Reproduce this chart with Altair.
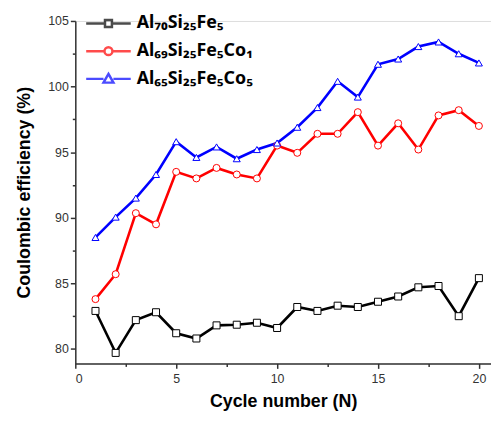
import altair as alt
import pandas as pd

cycles = list(range(1, 21))
series_names = ["Al₇₀Si₂₅Fe₅", "Al₆₉Si₂₅Fe₅Co₁", "Al₆₅Si₂₅Fe₅Co₅"]
black_vals = [82.9, 79.7, 82.2, 82.8, 81.2, 80.8, 81.8, 81.85, 82.0, 81.6,
              83.2, 82.9, 83.3, 83.2, 83.6, 84.0, 84.7, 84.8, 82.5, 85.4]
red_vals = [83.8, 85.7, 90.35, 89.5, 93.5, 93.0, 93.8, 93.3, 93.0, 95.5,
            94.95, 96.4, 96.4, 98.05, 95.5, 97.2, 95.2, 97.8, 98.2, 97.0]
blue_vals = [88.5, 90.05, 91.5, 93.3, 95.8, 94.6, 95.4, 94.5, 95.2, 95.7,
             96.9, 98.4, 100.4, 99.2, 101.7, 102.1, 103.05, 103.4, 102.5, 101.8]
colors = ["#000000", "#ff0000", "#0000ff"]
marker_shapes = ["square", "circle", "triangle-up"]
x_major = [0, 5, 10, 15, 20]
x_minor = [2.5, 7.5, 12.5, 17.5]
y_major = [80, 85, 90, 95, 100, 105]
y_minor = [82.5, 87.5, 92.5, 97.5, 102.5]

rows = []
for name, vals in zip(series_names, [black_vals, red_vals, blue_vals]):
    for c, v in zip(cycles, vals):
        rows.append({"cycle": c, "value": v, "series": name})
df = pd.DataFrame(rows)

FONT = "Liberation Sans"
xscale = alt.Scale(domain=[0, 20.6], nice=False, zero=False)
yscale = alt.Scale(domain=[78.9, 105], nice=False, zero=False)
cscale = alt.Scale(domain=series_names, range=colors)
sscale = alt.Scale(domain=series_names, range=marker_shapes)

# legend symbol: line with marker in the middle (wider than the unit box)
leg_paths = [
    "M-2.25,0H-0.35M0.35,0H2.25M-0.35,-0.35H0.35V0.35H-0.35Z",
    "M-2.25,0H-0.4M0.4,0H2.25M-0.4,0A0.4,0.4 0 1,0 0.4,0A0.4,0.4 0 1,0 -0.4,0Z",
    "M-2.25,0H-0.5M0.5,0H2.25M0,-0.5L0.5,0.38H-0.5Z",
]
lscale = alt.Scale(domain=series_names, range=leg_paths)

axis_common = dict(grid=False, domainColor="#333", domainWidth=1.5, tickColor="#333",
                   tickWidth=1.5, labelFont=FONT, labelFontSize=12.5, labelColor="#333",
                   titleFont=FONT, titleFontSize=18, titleFontWeight="bold", titleColor="#000")

x_axis = alt.Axis(values=x_major, orient="bottom", tickSize=5, labelPadding=4,
                  title="Cycle number (N)", titlePadding=8, **axis_common)
y_axis = alt.Axis(values=y_major, orient="left", tickSize=5, labelPadding=2,
                  title="Coulombic efficiency (%)", titlePadding=14, **axis_common)
x_axis_minor = alt.Axis(values=x_minor, orient="bottom", tickSize=3, labels=False,
                        domain=False, grid=False, title=None, tickColor="#333", tickWidth=1.5)
y_axis_minor = alt.Axis(values=y_minor, orient="left", tickSize=3, labels=False,
                        domain=False, grid=False, title=None, tickColor="#333", tickWidth=1.5)

lines = alt.Chart(df).mark_line(strokeWidth=2.6).encode(
    x=alt.X("cycle:Q", scale=xscale, axis=x_axis),
    y=alt.Y("value:Q", scale=yscale, axis=y_axis),
    color=alt.Color("series:N", scale=cscale, legend=None),
    detail="series:N",
)

points = alt.Chart(df).mark_point(filled=False, fill="white", fillOpacity=1, opacity=1,
                                  strokeWidth=1, size=50).encode(
    x=alt.X("cycle:Q", scale=xscale, axis=None),
    y=alt.Y("value:Q", scale=yscale, axis=None),
    stroke=alt.Stroke("series:N", scale=cscale, legend=None),
    shape=alt.Shape("series:N", scale=sscale, legend=None),
)

minor = alt.Chart(df).mark_point(opacity=0).encode(
    x=alt.X("cycle:Q", scale=xscale, axis=x_axis_minor),
    y=alt.Y("value:Q", scale=yscale, axis=y_axis_minor),
)

leg_opts = dict(title=None, orient="none", legendX=22, legendY=-9, symbolSize=400,
                symbolStrokeWidth=2.5, labelFont="Noto Sans", labelFontSize=18,
                labelFontWeight="bold", labelColor="#000", rowPadding=7, labelOffset=17,
                symbolFillColor="white")

legend_layer = alt.Chart(df).transform_filter("false").mark_point(
    filled=False, strokeWidth=2.5).encode(
    x=alt.X("cycle:Q", scale=xscale, axis=None),
    y=alt.Y("value:Q", scale=yscale, axis=None),
    color=alt.Color("series:N", scale=cscale, legend=alt.Legend(**leg_opts)),
    shape=alt.Shape("series:N", scale=lscale, legend=alt.Legend(**leg_opts)),
)

chart = alt.layer(minor, lines, points, legend_layer).resolve_scale(
    shape="independent", color="independent", stroke="independent"
).resolve_axis(x="independent", y="independent").properties(
    width=420, height=346,
    autosize=alt.AutoSizeParams(type="none"),
    padding={"left": 68, "top": 11, "right": 0, "bottom": 48},
).configure_view(stroke=None).configure(background="white")

chart.save("out.html", embed_options={"renderer": "svg", "actions": False})
